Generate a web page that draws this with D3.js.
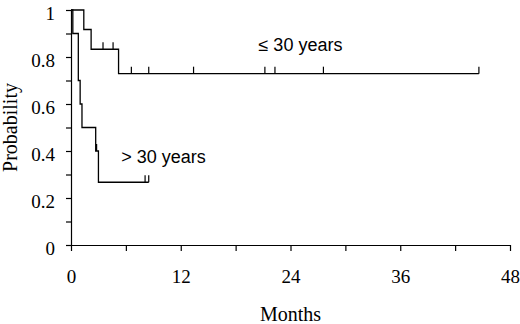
<!DOCTYPE html>
<html>
<head>
<meta charset="utf-8">
<script src="https://cdn.jsdelivr.net/npm/d3@7"></script>
<style>
    body { margin: 0; background: #fff; }
    .axis text { font-family: "Liberation Serif", "Times New Roman", serif; font-size: 19px; fill: #000; }
    .axis line, .axis path { stroke: #000; stroke-width: 1.2px; }
    .axis-title { font-family: "Liberation Serif", "Times New Roman", serif; font-size: 20px; fill: #000; }
    .group-label { font-family: "Liberation Sans", Arial, sans-serif; font-size: 18px; fill: #000; }
</style>
</head>
<body>
<div id="chart"></div>
<script>

// <= 30 years : step times (months) and survival after each step
let youngTimes = [0, 1.4, 2.2, 5.2];
let youngSurv = [1, 0.917, 0.833, 0.729];
let youngEnd = 44.6;
let youngCensorTimes = [3.5, 4.6, 6.6, 8.5, 13.4, 21.2, 22.3, 27.6, 44.6];

// > 30 years
let oldTimes = [0, 0.2, 0.8, 1.0, 1.2, 2.7, 3.0];
let oldSurv = [1, 0.9, 0.7, 0.6, 0.5, 0.4, 0.267];
let oldEnd = 8.5;
let oldCensorTimes = [2.8, 8.1, 8.5];

let xTicks = [0, 6, 12, 18, 24, 30, 36, 42, 48];
let yTicks = [0, 0.1, 0.2, 0.3, 0.4, 0.5, 0.6, 0.7, 0.8, 0.9, 1];

let margin = {top: 10, right: 10, bottom: 79, left: 71};
let width = 520 - margin.left - margin.right;
let height = 324 - margin.top - margin.bottom;

let svg = d3.select("#chart").append("svg")
    .attr("width", 520)
    .attr("height", 324)
    .append("g")
    .attr("transform", `translate(${margin.left}, ${margin.top})`);

let x = d3.scaleLinear().domain([0, 48]).range([0, width]);
let y = d3.scaleLinear().domain([0, 1]).range([height, 0]);

// axes
let xAxis = d3.axisBottom(x)
    .tickValues(xTicks)
    .tickSize(6)
    .tickSizeOuter(0)
    .tickPadding(19)
    .tickFormat(d => d % 12 === 0 ? d : "");

let yAxis = d3.axisLeft(y)
    .tickValues(yTicks)
    .tickSize(5)
    .tickSizeOuter(0)
    .tickPadding(11)
    .tickFormat(d => (Math.round(d * 10) % 2 === 0) ? d3.format("~g")(d) : "");

svg.append("g")
    .attr("class", "axis")
    .attr("transform", `translate(0, ${height})`)
    .call(xAxis);

svg.append("g")
    .attr("class", "axis")
    .call(yAxis)
    .selectAll("text")
    .attr("dy", "0.52em");

svg.append("text")
    .attr("class", "axis-title")
    .attr("x", width / 2)
    .attr("y", height + 76)
    .attr("text-anchor", "middle")
    .text("Months");

svg.append("text")
    .attr("class", "axis-title")
    .attr("transform", `translate(${17 - margin.left}, ${height / 2}) rotate(-90)`)
    .attr("text-anchor", "middle")
    .text("Probability");

// survival curves
function stepData(times, surv, end) {
    let pts = times.map((t, i) => ({t: t, s: surv[i]}));
    pts.push({t: end, s: surv[surv.length - 1]});
    return pts;
}

// level of the curve at a given time
function levelAt(times, surv, t) {
    let s = surv[0];
    times.forEach((tt, i) => { if (tt <= t) s = surv[i]; });
    return s;
}

let line = d3.line()
    .x(d => x(d.t))
    .y(d => y(d.s))
    .curve(d3.curveStepAfter);

let groups = [
    {times: youngTimes, surv: youngSurv, end: youngEnd, censor: youngCensorTimes},
    {times: oldTimes, surv: oldSurv, end: oldEnd, censor: oldCensorTimes}
];

groups.forEach(g => {
    svg.append("path")
        .datum(stepData(g.times, g.surv, g.end))
        .attr("d", line)
        .attr("fill", "none")
        .attr("stroke", "#000")
        .attr("stroke-width", 1.3);

    svg.selectAll(null)
        .data(g.censor)
        .enter().append("line")
        .attr("x1", d => x(d))
        .attr("x2", d => x(d))
        .attr("y1", d => y(levelAt(g.times, g.surv, d)))
        .attr("y2", d => y(levelAt(g.times, g.surv, d)) - 7)
        .attr("stroke", "#000")
        .attr("stroke-width", 1.2);
});

// labels
svg.append("text")
    .attr("class", "group-label")
    .attr("x", x(20.5))
    .attr("y", y(0.825))
    .text("\u2264 30 years");

svg.append("text")
    .attr("class", "group-label")
    .attr("x", x(5.5))
    .attr("y", y(0.35))
    .text("> 30 years");

</script>
</body>
</html>
